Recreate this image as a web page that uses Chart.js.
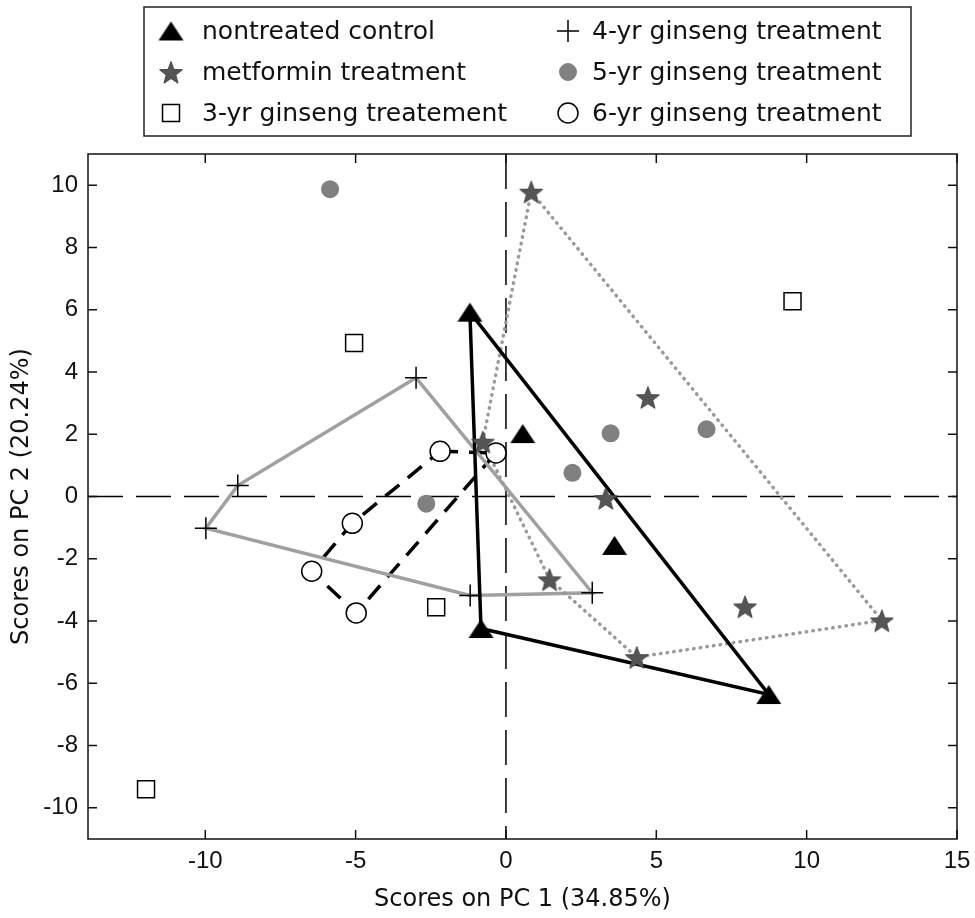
<!DOCTYPE html>
<html>
<head>
<meta charset="utf-8">
<script src="https://cdn.jsdelivr.net/npm/chart.js@4.4.1/dist/chart.umd.min.js"></script>
<style>
  html, body { margin: 0; padding: 0; background: #fff; }
  canvas { display: block; }
</style>
</head>
<body>
<canvas id="pca" width="975" height="918"></canvas>
<script>
// PCA scores, PC1 vs PC2, six treatment groups
const xTicks = [-10, -5, 0, 5, 10, 15]
const yTicks = [-10, -8, -6, -4, -2, 0, 2, 4, 6, 8, 10]

const groupLabels = [
  'nontreated control',
  'metformin treatment',
  '3-yr ginseng treatement',
  '4-yr ginseng treatment',
  '5-yr ginseng treatment',
  '6-yr ginseng treatment'
]

const controlPC1 = [-1.2, 0.56, 3.61, -0.83, 8.74]
const controlPC2 = [5.92, 2.02, -1.57, -4.24, -6.36]
const controlHull = [0, 4, 3, 0]

const metforminPC1 = [0.84, 4.72, 3.32, -0.77, 1.45, 7.95, 12.5, 4.35]
const metforminPC2 = [9.79, 3.19, -0.05, 1.76, -2.66, -3.53, -3.98, -5.16]
const metforminHull = [0, 6, 7, 4, 3, 0]

const yr3PC1 = [-5.05, 9.53, -2.32, -11.97]
const yr3PC2 = [4.93, 6.27, -3.56, -9.4]

const yr4PC1 = [-2.99, -8.92, -9.98, -1.19, 2.87]
const yr4PC2 = [3.81, 0.35, -1.02, -3.18, -3.09]
const yr4Hull = [0, 4, 3, 2, 1, 0]

const yr5PC1 = [-5.85, -2.65, 2.21, 3.48, 6.67]
const yr5PC2 = [9.87, -0.23, 0.76, 2.03, 2.16]

const yr6PC1 = [-2.19, -0.33, -5.11, -6.46, -4.98]
const yr6PC2 = [1.45, 1.40, -0.86, -2.40, -3.74]
const yr6Hull = [0, 1, 4, 3, 2, 0]

const pts = (xs, ys) => xs.map((x, i) => ({ x, y: ys[i] }))
const hull = (xs, ys, idx) => idx.map(i => ({ x: xs[i], y: ys[i] }))

// filled marker shapes that chart.js doesn't have
function starMarker(R, fill) {
  const c = document.createElement('canvas')
  const s = Math.ceil(R * 2 + 2)
  c.width = c.height = s
  const g = c.getContext('2d')
  g.beginPath()
  for (let i = 0; i < 10; i++) {
    const a = -Math.PI / 2 + i * Math.PI / 5
    const r = i % 2 ? R * 0.42 : R
    g.lineTo(s / 2 + r * Math.cos(a), s / 2 + 1.5 + r * Math.sin(a))
  }
  g.closePath()
  g.fillStyle = fill
  g.fill()
  g.strokeStyle = '#444'
  g.lineWidth = 1
  g.stroke()
  return c
}

function triangleMarker(w, h, fill) {
  const c = document.createElement('canvas')
  c.width = w + 2
  c.height = h + 2
  const g = c.getContext('2d')
  g.beginPath()
  g.moveTo(1 + w / 2, 1)
  g.lineTo(1 + w, 1 + h)
  g.lineTo(1, 1 + h)
  g.closePath()
  g.fillStyle = fill
  g.fill()
  return c
}

const triImg = triangleMarker(25, 19, '#000')
const starImg = starMarker(12, '#555')

const markerSets = [
  { label: groupLabels[0], data: pts(controlPC1, controlPC2), pointStyle: triImg, pointRadius: 12,
    pointBackgroundColor: '#000', pointBorderColor: '#000', pointBorderWidth: 0 },
  { label: groupLabels[1], data: pts(metforminPC1, metforminPC2), pointStyle: starImg, pointRadius: 12,
    pointBackgroundColor: '#555', pointBorderColor: '#555', pointBorderWidth: 0 },
  { label: groupLabels[2], data: pts(yr3PC1, yr3PC2), pointStyle: 'rect', pointRadius: 12,
    pointBackgroundColor: '#fff', pointBorderColor: '#000', pointBorderWidth: 1.5 },
  { label: groupLabels[3], data: pts(yr4PC1, yr4PC2), pointStyle: 'cross', pointRadius: 11,
    pointBackgroundColor: '#000', pointBorderColor: '#000', pointBorderWidth: 1.5 },
  { label: groupLabels[4], data: pts(yr5PC1, yr5PC2), pointStyle: 'circle', pointRadius: 9,
    pointBackgroundColor: '#808080', pointBorderColor: '#808080', pointBorderWidth: 0 },
  { label: groupLabels[5], data: pts(yr6PC1, yr6PC2), pointStyle: 'circle', pointRadius: 10,
    pointBackgroundColor: '#fff', pointBorderColor: '#000', pointBorderWidth: 1.5 }
]

const hullSets = [
  { data: hull(controlPC1, controlPC2, controlHull), borderColor: '#000', borderWidth: 3.5 },
  { data: hull(metforminPC1, metforminPC2, metforminHull), borderColor: '#999', borderWidth: 3.5,
    borderDash: [0.5, 6.2], borderCapStyle: 'round' },
  { data: hull(yr4PC1, yr4PC2, yr4Hull), borderColor: '#a0a0a0', borderWidth: 3.5 },
  { data: hull(yr6PC1, yr6PC2, yr6Hull), borderColor: '#000', borderWidth: 3.5, borderDash: [18, 11] }
].map(d => Object.assign({ showLine: true, pointRadius: 0, fill: false, tension: 0 }, d))

function drawMarker(ctx, ds, x, y) {
  const s = ds.pointStyle
  ctx.save()
  if (typeof s !== 'string') {
    ctx.drawImage(s, x - s.width / 2, y - s.height / 2)
    ctx.restore()
    return
  }
  const r = ds.pointRadius
  ctx.lineWidth = ds.pointBorderWidth
  ctx.strokeStyle = ds.pointBorderColor
  ctx.fillStyle = ds.pointBackgroundColor
  ctx.beginPath()
  if (s === 'circle') ctx.arc(x, y, r, 0, Math.PI * 2)
  else if (s === 'rect') {
    const h = r * Math.SQRT1_2
    ctx.rect(x - h, y - h, 2 * h, 2 * h)
  } else if (s === 'cross') {
    ctx.moveTo(x - r, y); ctx.lineTo(x + r, y)
    ctx.moveTo(x, y - r); ctx.lineTo(x, y + r)
  }
  if (s !== 'cross') ctx.fill()
  if (ds.pointBorderWidth > 0) ctx.stroke()
  ctx.restore()
}

const axisFrame = {
  id: 'axisFrame',
  beforeDatasetsDraw(chart) {
    // dashed lines through the origin
    const { ctx, chartArea: a, scales: { x, y } } = chart
    const x0 = x.getPixelForValue(0)
    const y0 = y.getPixelForValue(0)
    ctx.save()
    ctx.strokeStyle = '#000'
    ctx.lineWidth = 1.5
    ctx.setLineDash([35, 13])
    ctx.beginPath()
    ctx.moveTo(a.left, y0); ctx.lineTo(a.right, y0)
    ctx.moveTo(x0, a.top); ctx.lineTo(x0, a.bottom)
    ctx.stroke()
    ctx.restore()
  },
  afterDraw(chart) {
    const { ctx, chartArea: a, scales: { x, y } } = chart
    const tl = 9
    ctx.save()
    ctx.strokeStyle = '#111'
    ctx.lineWidth = 1.5
    ctx.strokeRect(a.left, a.top, a.right - a.left, a.bottom - a.top)
    ctx.beginPath()
    xTicks.forEach(v => {
      const px = x.getPixelForValue(v)
      ctx.moveTo(px, a.bottom); ctx.lineTo(px, a.bottom - tl)
      ctx.moveTo(px, a.top); ctx.lineTo(px, a.top + tl)
    })
    yTicks.forEach(v => {
      const py = y.getPixelForValue(v)
      ctx.moveTo(a.left, py); ctx.lineTo(a.left + tl, py)
      ctx.moveTo(a.right, py); ctx.lineTo(a.right - tl, py)
    })
    ctx.stroke()

    // legend box, two columns of three
    ctx.fillStyle = '#fff'
    ctx.fillRect(144, 7, 767, 129)
    ctx.strokeStyle = '#222'
    ctx.strokeRect(144, 7, 767, 129)
    const rows = [31, 72, 113]
    const cols = [{ mx: 171, tx: 202 }, { mx: 568, tx: 592 }]
    ctx.font = '25px "DejaVu Sans"'
    ctx.textBaseline = 'alphabetic'
    ctx.textAlign = 'left'
    markerSets.forEach((ds, i) => {
      const col = i < 3 ? cols[0] : cols[1]
      const ry = rows[i % 3]
      drawMarker(ctx, ds, col.mx, ry)
      ctx.fillStyle = '#111'
      ctx.fillText(ds.label, col.tx, ry + 8)
    })
    ctx.restore()
  }
}

new Chart(document.getElementById('pca'), {
  type: 'scatter',
  data: { datasets: [...markerSets, ...hullSets] },
  options: {
    responsive: false,
    devicePixelRatio: 1,
    animation: false,
    events: [],
    layout: { padding: { top: 154, right: 18, left: 0, bottom: 0 } },
    plugins: { legend: { display: false }, tooltip: { enabled: false } },
    scales: {
      x: {
        type: 'linear',
        min: -13.9,
        max: 15,
        afterBuildTicks: s => { s.ticks = xTicks.map(v => ({ value: v })) },
        afterFit: s => { s.height = 79; s.paddingLeft = 0; s.paddingRight = 0 },
        grid: { display: false, drawTicks: false },
        border: { display: false },
        ticks: { padding: 8, color: '#111', font: { family: 'Liberation Sans', size: 24 } },
        title: {
          display: true,
          text: 'Scores on PC 1 (34.85%)',
          color: '#111',
          padding: { top: 0, bottom: 4 },
          font: { family: 'DejaVu Sans', size: 24 }
        }
      },
      y: {
        type: 'linear',
        min: -11,
        max: 11,
        afterBuildTicks: s => { s.ticks = yTicks.map(v => ({ value: v })) },
        afterFit: s => { s.width = 88 },
        grid: { display: false, drawTicks: false },
        border: { display: false },
        ticks: { padding: 10, color: '#111', font: { family: 'Liberation Sans', size: 24 } },
        title: {
          display: true,
          text: 'Scores on PC 2 (20.24%)',
          color: '#111',
          padding: { top: 7, bottom: 0 },
          font: { family: 'DejaVu Sans', size: 24 }
        }
      }
    }
  },
  plugins: [axisFrame]
})
</script>
</body>
</html>
